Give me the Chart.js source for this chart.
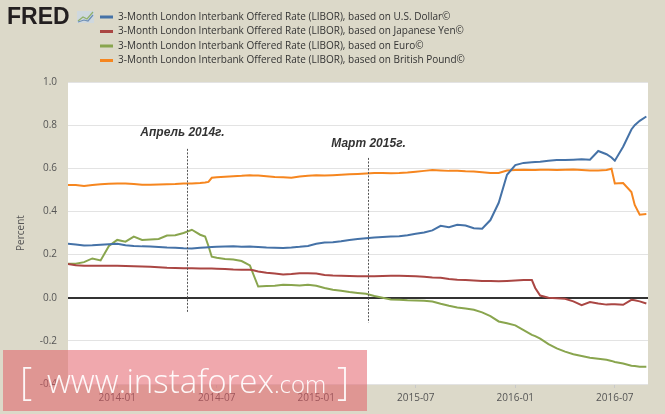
<!DOCTYPE html>
<html>
<head>
<meta charset="utf-8">
<script src="https://cdn.jsdelivr.net/npm/chart.js@4.4.0/dist/chart.umd.min.js"></script>
<style>
  html, body { margin: 0; padding: 0; background: #dcd9c9; }
  #wrap { position: relative; width: 665px; height: 414px; }
</style>
</head>
<body>
<div id="wrap"><canvas id="chart" width="665" height="414"></canvas></div>
<script>
// ---------- data ----------
const dates = [
  '2013-10-01','2013-10-16','2013-11-01','2013-11-16','2013-12-01','2013-12-16',
  '2014-01-01','2014-01-16','2014-02-01','2014-02-16','2014-03-01','2014-03-16',
  '2014-04-01','2014-04-16','2014-05-01','2014-05-16','2014-06-01','2014-06-10',
  '2014-06-16','2014-06-22','2014-07-01','2014-07-16','2014-08-01','2014-08-16',
  '2014-09-01','2014-09-07','2014-09-16','2014-10-01','2014-10-16','2014-11-01',
  '2014-11-16','2014-12-01','2014-12-16','2015-01-01','2015-01-16','2015-02-01',
  '2015-02-16','2015-03-01','2015-03-16','2015-04-01','2015-04-16','2015-05-01',
  '2015-05-16','2015-06-01','2015-06-16','2015-07-01','2015-07-16','2015-08-01',
  '2015-08-16','2015-09-01','2015-09-16','2015-10-01','2015-10-16','2015-11-01',
  '2015-11-16','2015-12-01','2015-12-16','2016-01-01','2016-01-16','2016-02-01',
  '2016-02-07','2016-02-16','2016-03-01','2016-03-16','2016-04-01','2016-04-16',
  '2016-05-01','2016-05-16','2016-06-01','2016-06-16','2016-06-25','2016-07-01',
  '2016-07-16','2016-08-01','2016-08-07','2016-08-16','2016-08-28'
];

const usd = [
  0.250,0.247,0.242,0.243,0.246,0.248,
  0.250,0.243,0.240,0.238,0.237,0.235,
  0.233,0.232,0.229,0.228,0.232,0.233,
  0.234,0.235,0.236,0.237,0.238,0.236,
  0.237,0.236,0.235,0.233,0.232,0.231,
  0.233,0.236,0.240,0.250,0.256,0.257,
  0.262,0.268,0.272,0.276,0.279,0.282,
  0.284,0.285,0.290,0.296,0.302,0.312,
  0.333,0.327,0.338,0.335,0.322,0.320,
  0.360,0.440,0.570,0.615,0.625,0.628,
  0.629,0.630,0.635,0.638,0.638,0.640,
  0.642,0.640,0.680,0.665,0.650,0.635,
  0.700,0.780,0.800,0.820,0.840
];

const jpy = [
  0.157,0.150,0.148,0.148,0.148,0.148,
  0.148,0.147,0.146,0.145,0.143,0.141,
  0.139,0.138,0.137,0.137,0.136,0.135,
  0.135,0.135,0.134,0.133,0.131,0.130,
  0.130,0.127,0.122,0.116,0.112,0.108,
  0.110,0.113,0.113,0.112,0.105,0.103,
  0.102,0.101,0.100,0.099,0.100,0.101,
  0.102,0.102,0.101,0.100,0.097,0.094,
  0.092,0.087,0.083,0.082,0.080,0.078,
  0.077,0.076,0.078,0.080,0.082,0.082,
  0.045,0.010,0.000,-0.002,-0.005,-0.017,
  -0.035,-0.020,-0.027,-0.032,-0.030,-0.030,
  -0.033,-0.010,-0.012,-0.017,-0.027
];

const eur = [
  0.157,0.158,0.165,0.182,0.173,0.240,
  0.268,0.260,0.283,0.268,0.270,0.272,
  0.288,0.290,0.300,0.315,0.292,0.284,
  0.240,0.190,0.185,0.180,0.177,0.170,
  0.150,0.110,0.052,0.054,0.056,0.060,
  0.059,0.057,0.060,0.055,0.045,0.037,
  0.032,0.026,0.022,0.018,0.008,0.000,
  -0.008,-0.010,-0.012,-0.013,-0.014,-0.018,
  -0.028,-0.037,-0.045,-0.050,-0.056,-0.068,
  -0.085,-0.110,-0.118,-0.128,-0.150,-0.172,
  -0.178,-0.190,-0.215,-0.235,-0.250,-0.262,
  -0.270,-0.278,-0.283,-0.288,-0.293,-0.298,
  -0.305,-0.315,-0.317,-0.320,-0.320
];

const gbp = [
  0.523,0.522,0.518,0.522,0.526,0.528,
  0.530,0.530,0.527,0.524,0.524,0.525,
  0.526,0.527,0.530,0.530,0.532,0.534,
  0.537,0.556,0.558,0.561,0.563,0.565,
  0.568,0.567,0.566,0.563,0.560,0.558,
  0.556,0.562,0.565,0.568,0.566,0.568,
  0.570,0.572,0.574,0.576,0.578,0.578,
  0.577,0.578,0.580,0.584,0.588,0.592,
  0.590,0.588,0.588,0.586,0.585,0.582,
  0.578,0.578,0.590,0.592,0.593,0.592,
  0.592,0.593,0.593,0.592,0.593,0.594,
  0.592,0.590,0.590,0.592,0.598,0.530,
  0.532,0.490,0.430,0.385,0.388
];

const seriesNames = [
  '3-Month London Interbank Offered Rate (LIBOR), based on U.S. Dollar©',
  '3-Month London Interbank Offered Rate (LIBOR), based on Japanese Yen©',
  '3-Month London Interbank Offered Rate (LIBOR), based on Euro©',
  '3-Month London Interbank Offered Rate (LIBOR), based on British Pound©'
];
const seriesColors = ['#4572a7', '#aa4643', '#89a54e', '#f6861f'];

const tickLabels = ['2014-01', '2014-07', '2015-01', '2015-07', '2016-01', '2016-07'];
const xStart = '2013-10-02';
const xEnd   = '2016-08-31';

const markerDates  = ['2014-05-08', '2015-04-04'];
const markerLabels = ['Апрель 2014г.', 'Март 2015г.'];

// ---------- helpers ----------
// date string -> months since 2014-01-01
const toMonth = (s) => {
  const [y, m, d] = s.split('-').map(Number);
  return (y - 2014) * 12 + (m - 1) + ((d || 1) - 1) / 30;
};
const toPoints = (vals) => dates.map((d, i) => ({ x: toMonth(d), y: vals[i] }));

const FONT = '"Open Sans", "DejaVu Sans", sans-serif';

// ---------- plugins ----------
const bgPlugin = {
  id: 'bg',
  beforeDraw(chart) {
    const { ctx, chartArea: a } = chart;
    ctx.save();
    ctx.fillStyle = '#dcd9c9';
    ctx.fillRect(0, 0, chart.width, chart.height);
    ctx.fillStyle = '#ffffff';
    ctx.fillRect(a.left, a.top, a.right - a.left, a.bottom - a.top);
    ctx.restore();
  }
};

const fredLegend = {
  id: 'fredLegend',
  afterDraw(chart) {
    const ctx = chart.ctx;
    ctx.save();
    // logo
    ctx.fillStyle = '#231f20';
    ctx.font = 'bold 23px "Liberation Sans", Arial, sans-serif';
    ctx.textBaseline = 'alphabetic';
    ctx.fillText('FRED', 7, 24);
    ctx.fillStyle = '#cfd8de';
    ctx.fillRect(77, 11, 17, 12);
    ctx.lineWidth = 1.2;
    ctx.strokeStyle = '#8fb06a';
    ctx.beginPath(); ctx.moveTo(78, 21); ctx.lineTo(83, 17); ctx.lineTo(87, 19); ctx.lineTo(93, 12); ctx.stroke();
    ctx.strokeStyle = '#6d8fb5';
    ctx.beginPath(); ctx.moveTo(78, 22); ctx.lineTo(84, 20); ctx.lineTo(88, 21); ctx.lineTo(93, 15); ctx.stroke();
    // entries
    ctx.font = '10px ' + FONT;
    ctx.textBaseline = 'middle';
    chart.data.datasets.forEach((ds, i) => {
      const y = 17 + i * 14.5;
      ctx.strokeStyle = ds.borderColor;
      ctx.lineWidth = 3;
      ctx.beginPath(); ctx.moveTo(100, y); ctx.lineTo(113, y); ctx.stroke();
      ctx.fillStyle = '#333';
      ctx.fillText(ds.label, 118, y);
    });
    ctx.restore();
  }
};

const markers = {
  id: 'markers',
  afterDatasetsDraw(chart) {
    const { ctx, scales: { x, y } } = chart;
    const tops = [0.69, 0.648], bottoms = [-0.07, -0.116], textY = [0.764, 0.713], dx = [-5, 0];
    ctx.save();
    markerDates.forEach((d, i) => {
      const px = Math.round(x.getPixelForValue(toMonth(d))) + 0.5;
      ctx.strokeStyle = '#555';
      ctx.lineWidth = 1;
      ctx.setLineDash([2, 1.5]);
      ctx.beginPath();
      ctx.moveTo(px, y.getPixelForValue(tops[i]));
      ctx.lineTo(px, y.getPixelForValue(bottoms[i]));
      ctx.stroke();
      ctx.setLineDash([]);
      ctx.fillStyle = '#333';
      ctx.font = 'italic bold 12px "Liberation Sans", Arial, sans-serif';
      ctx.textAlign = 'center';
      ctx.textBaseline = 'middle';
      ctx.fillText(markerLabels[i], px + dx[i], y.getPixelForValue(textY[i]));
    });
    ctx.restore();
  }
};

const watermark = {
  id: 'watermark',
  afterDraw(chart) {
    const ctx = chart.ctx;
    ctx.save();
    ctx.fillStyle = 'rgba(226, 88, 98, 0.52)';
    ctx.fillRect(3, 350, 364, 61);
    ctx.fillStyle = 'rgba(255,255,255,0.92)';
    ctx.textBaseline = 'alphabetic';
    ctx.font = '300 38px ' + FONT;
    ctx.fillText('[', 20, 395);
    ctx.font = '300 33px ' + FONT;
    ctx.fillText('www.instaforex', 47, 393);
    const w = ctx.measureText('www.instaforex').width;
    ctx.font = '300 24px ' + FONT;
    ctx.fillText('.com', 47 + w, 393);
    ctx.font = '300 38px ' + FONT;
    ctx.fillText(']', 337, 395);
    ctx.restore();
  }
};

// ---------- chart ----------
new Chart(document.getElementById('chart'), {
  type: 'line',
  data: {
    datasets: [usd, jpy, eur, gbp].map((vals, i) => ({
      label: seriesNames[i],
      data: toPoints(vals),
      borderColor: seriesColors[i],
      backgroundColor: seriesColors[i],
      borderWidth: 2,
      pointRadius: 0,
      tension: 0,
      fill: false
    }))
  },
  options: {
    responsive: false,
    animation: false,
    layout: { padding: { top: 82, right: 17, left: 0, bottom: 0 } },
    plugins: {
      legend: { display: false },
      tooltip: { enabled: false }
    },
    scales: {
      x: {
        type: 'linear',
        min: toMonth(xStart),
        max: toMonth(xEnd),
        afterBuildTicks: (scale) => {
          scale.ticks = tickLabels.map(l => ({ value: toMonth(l + '-01') }));
        },
        afterFit: (scale) => { scale.height = 30; },
        ticks: {
          color: '#555',
          font: { family: FONT, size: 10 },
          padding: 4,
          maxRotation: 0,
          autoSkip: false,
          callback: (v) => {
            const i = tickLabels.findIndex(l => Math.abs(toMonth(l + '-01') - v) < 1e-6);
            return i >= 0 ? tickLabels[i] : '';
          }
        },
        grid: { drawOnChartArea: false, drawTicks: true, tickLength: 4, color: '#c8c8c8' },
        border: { display: false }
      },
      y: {
        min: -0.4,
        max: 1.0,
        afterFit: (scale) => { scale.width = 68; },
        ticks: {
          stepSize: 0.2,
          color: '#555',
          font: { family: FONT, size: 10 },
          padding: 11,
          callback: (v) => (Math.abs(v) < 1e-9 ? 0 : v).toFixed(1)
        },
        title: {
          display: true,
          text: 'Percent',
          color: '#555',
          font: { family: FONT, size: 10 },
          padding: { top: 15, bottom: 0 }
        },
        grid: {
          drawTicks: false,
          color: (c) => Math.abs(c.tick.value) < 1e-9 ? '#333' : '#e3e3e3',
          lineWidth: (c) => Math.abs(c.tick.value) < 1e-9 ? 2 : 1
        },
        border: { display: false }
      }
    }
  },
  plugins: [bgPlugin, markers, fredLegend, watermark]
});
</script>
</body>
</html>
